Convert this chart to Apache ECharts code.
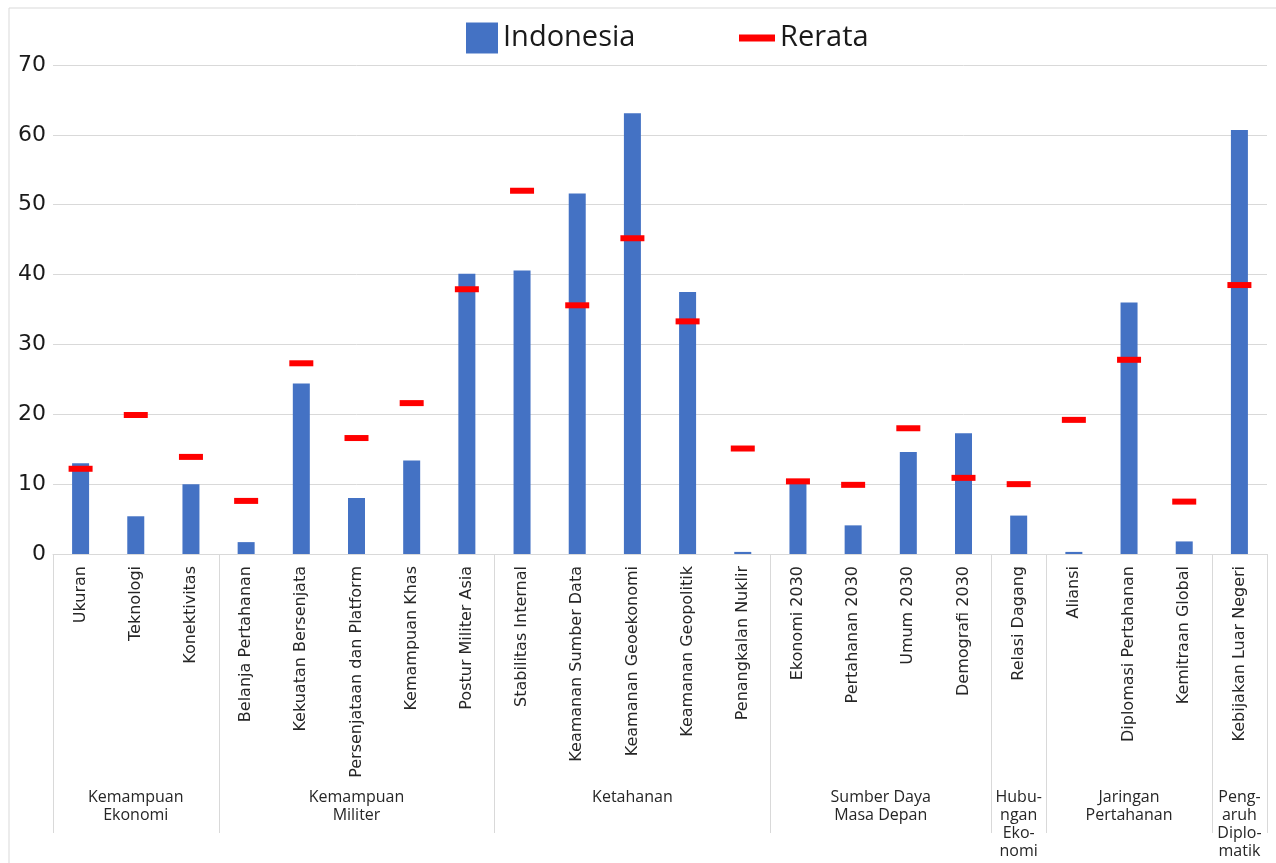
<!DOCTYPE html>
<html>
<head>
<meta charset="utf-8">
<script src="https://cdn.jsdelivr.net/npm/echarts@6/dist/echarts.min.js"></script>
<style>
html,body{margin:0;padding:0;background:#fff;}
#c{width:1276px;height:863px;}
</style>
</head>
<body>
<div id="c"></div>
<script>
const categories = ["Ukuran","Teknologi","Konektivitas","Belanja Pertahanan","Kekuatan Bersenjata","Persenjataan dan Platform","Kemampuan Khas","Postur Militer Asia","Stabilitas Internal","Keamanan Sumber Data","Keamanan Geoekonomi","Keamanan Geopolitik","Penangkalan Nuklir","Ekonomi 2030","Pertahanan 2030","Umum 2030","Demografi 2030","Relasi Dagang","Aliansi","Diplomasi Pertahanan","Kemitraan Global","Kebijakan Luar Negeri"];
const indonesia = [13.0,5.4,10.0,1.7,24.4,8.0,13.4,40.1,40.6,51.6,63.1,37.5,0.3,10.2,4.1,14.6,17.3,5.5,0.3,36.0,1.8,60.7];
const rerata = [12.2,19.9,13.9,7.6,27.3,16.6,21.6,37.9,52.0,35.6,45.2,33.3,15.1,10.4,9.9,18.0,10.9,10.0,19.2,27.8,7.5,38.5];
const groupNames = ["Kemampuan\nEkonomi","Kemampuan\nMiliter","Ketahanan","Sumber Daya\nMasa Depan","Hubu-\nngan\nEko-\nnomi","Jaringan\nPertahanan","Peng-\naruh\nDiplo-\nmatik"];
const groupSizes = [3,5,5,4,1,3,1];
const yTicks = [0,10,20,30,40,50,60,70];

const chart = echarts.init(document.getElementById('c'), null, {renderer:'canvas'});
const option = {
  animation:false,
  backgroundColor:'#fff',
  legend:[
    {data:[{name:'Indonesia', icon:'rect'}], left:461, top:16, itemWidth:32, itemHeight:31, itemGap:0,
     textStyle:{fontFamily:'Open Sans', fontSize:29, color:'#1a1a1a', lineHeight:34}},
    {data:[{name:'Rerata', icon:'rect'}], left:734, top:16, itemWidth:36, itemHeight:7, itemGap:0,
     textStyle:{fontFamily:'Open Sans', fontSize:29, color:'#1a1a1a', lineHeight:34}}
  ],
  grid:{left:53, right:9, top:65, bottom:309, containLabel:false},
  xAxis:{
    type:'category', data:categories,
    axisLine:{lineStyle:{color:'#d9d9d9', width:1}},
    axisTick:{show:false},
    axisLabel:{rotate:90, margin:12, interval:0, fontFamily:'DejaVu Sans', fontSize:16, color:'#262626'}
  },
  yAxis:{
    type:'value', min:yTicks[0], max:yTicks[yTicks.length-1], interval:10,
    axisLine:{show:false}, axisTick:{show:false},
    splitLine:{lineStyle:{color:'#d9d9d9', width:1}},
    axisLabel:{margin:7, fontFamily:'DejaVu Sans', fontSize:22, color:'#1a1a1a'}
  },
  series:[
    {name:'Indonesia', type:'bar', data:indonesia, barWidth:17, itemStyle:{color:'#4472C4'}, z:2},
    {name:'Rerata', type:'scatter', data:rerata, symbol:'rect', symbolSize:[24,6], itemStyle:{color:'#FF0000', opacity:1}, z:5}
  ]
};
chart.setOption(option);

// group separators and labels derived from the category axis scale
const graphics = [];
graphics.push({type:'rect', shape:{x:9, y:8, width:1300, height:900}, style:{fill:'none', stroke:'#d9d9d9', lineWidth:1}, z:-10, silent:true});
const p0 = chart.convertToPixel({xAxisIndex:0}, 0);
const p1 = chart.convertToPixel({xAxisIndex:0}, 1);
const band = p1 - p0;
const yAxisPx = chart.convertToPixel({yAxisIndex:0}, 0);
const lineBottom = yAxisPx + 279;
let start = 0;
const boundaries = [p0 - band/2];
groupSizes.forEach(function(sz){
  const endIdx = start + sz - 1;
  boundaries.push(chart.convertToPixel({xAxisIndex:0}, endIdx) + band/2);
  start += sz;
});
boundaries.forEach(function(bx){
  const x = Math.round(bx) + 0.5;
  graphics.push({type:'line', shape:{x1:x, y1:yAxisPx, x2:x, y2:lineBottom}, style:{stroke:'#d9d9d9', lineWidth:1}, silent:true});
});
groupNames.forEach(function(name, i){
  const cx = (boundaries[i] + boundaries[i+1]) / 2;
  graphics.push({type:'text', x:cx, y:yAxisPx + 234, style:{text:name, align:'center', verticalAlign:'top', font:'16px "Open Sans"', lineHeight:18, fill:'#262626'}, silent:true});
});
chart.setOption({graphic:graphics});
</script>
</body>
</html>
